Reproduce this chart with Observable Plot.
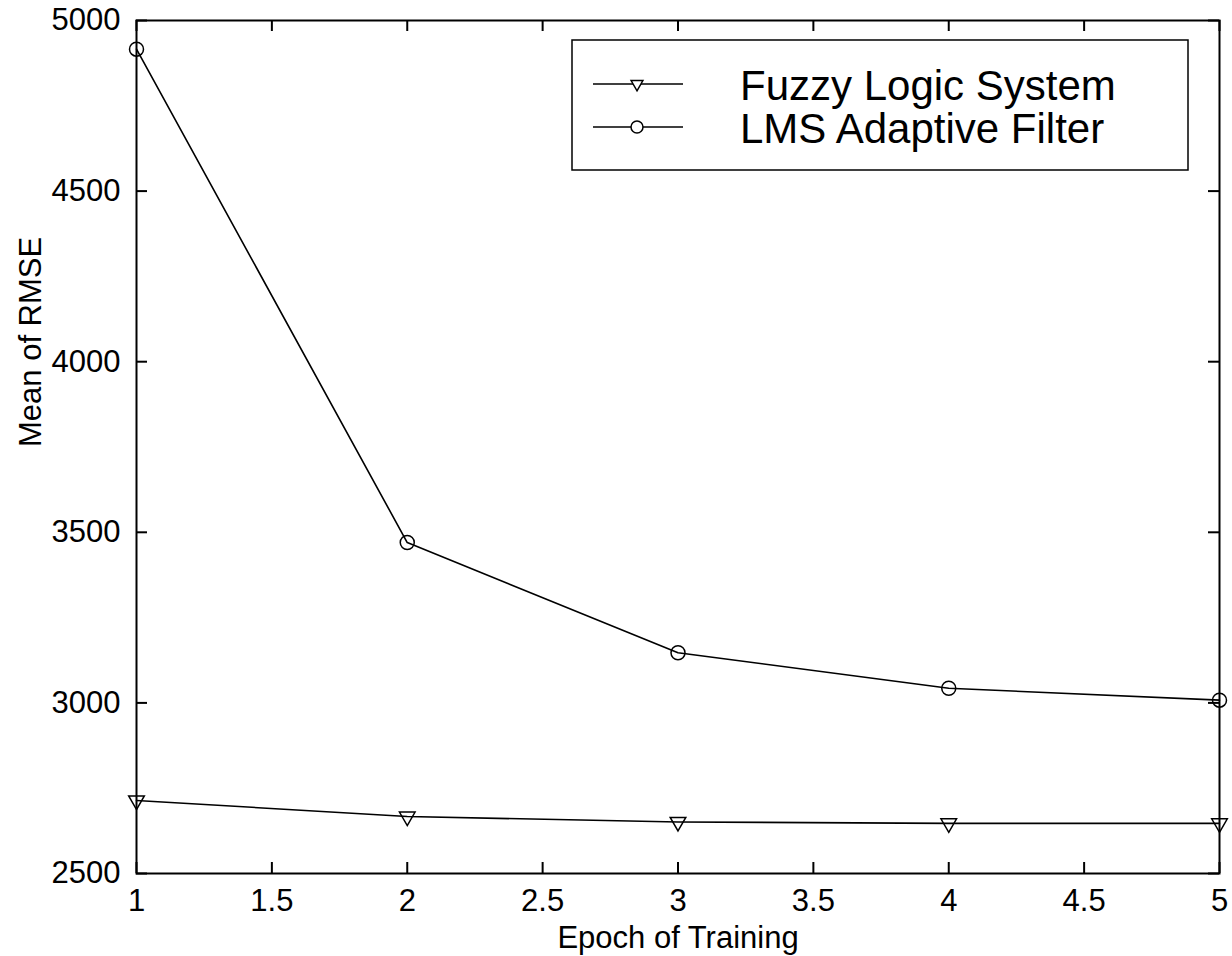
<!DOCTYPE html>
<html><head><meta charset="utf-8">
<script src="https://cdn.jsdelivr.net/npm/d3@7"></script>
<script src="https://cdn.jsdelivr.net/npm/@observablehq/plot@0.6"></script>
<style>body{margin:0;background:#fff} #chart{width:1232px;height:956px}</style>
</head><body><div id="chart"></div>
<script>
const epochs = [1, 2, 3, 4, 5];
const fuzzyRMSE = [2714, 2667, 2651, 2647, 2647];
const lmsRMSE = [4916, 3470, 3147, 3043, 3008];
const seriesNames = ["Fuzzy Logic System", "LMS Adaptive Filter"];
const xTicks = [1, 1.5, 2, 2.5, 3, 3.5, 4, 4.5, 5];
const yTicks = [2500, 3000, 3500, 4000, 4500, 5000];
const xLabel = "Epoch of Training";
const yLabel = "Mean of RMSE";

const fuzzy = epochs.map((e, i) => ({epoch: e, rmse: fuzzyRMSE[i]}));
const lms = epochs.map((e, i) => ({epoch: e, rmse: lmsRMSE[i]}));

const font = "'Liberation Sans', Arial, Helvetica, sans-serif";
const plotW = 1232, plotH = 956, mL = 136, mR = 13, mT = 20, mB = 83;
const frameW = plotW - mL - mR, frameH = plotH - mT - mB;
const tickLen = 11;
const triDown = {draw(ctx, size) {
  const y = -Math.sqrt(size / (Math.sqrt(3) * 3));
  ctx.moveTo(0, -2 * y);
  ctx.lineTo(-Math.sqrt(3) * y, y);
  ctx.lineTo(Math.sqrt(3) * y, y);
  ctx.closePath();
}};

const plot = Plot.plot({
  width: plotW, height: plotH,
  marginLeft: mL, marginRight: mR, marginTop: mT, marginBottom: mB,
  style: {fontFamily: font, background: "white"},
  x: {domain: [1, 5]},
  y: {domain: [2500, 5000]},
  marks: [
    Plot.frame({stroke: "black", strokeWidth: 2}),
    Plot.axisX({ticks: xTicks, tickSize: 0, tickPadding: 15, fontSize: 31, label: null, tickFormat: d => String(d)}),
    Plot.axisY({ticks: yTicks, tickSize: 0, tickPadding: 16, fontSize: 31, label: null, tickFormat: d => String(d)}),
    // inward tick marks on all four sides
    Plot.ruleX(xTicks, {x: d => d, insetTop: frameH - tickLen, stroke: "black", strokeWidth: 2}),
    Plot.ruleX(xTicks, {x: d => d, insetBottom: frameH - tickLen, stroke: "black", strokeWidth: 2}),
    Plot.ruleY(yTicks, {y: d => d, insetRight: frameW - tickLen, stroke: "black", strokeWidth: 2}),
    Plot.ruleY(yTicks, {y: d => d, insetLeft: frameW - tickLen, stroke: "black", strokeWidth: 2}),
    Plot.line(lms, {x: "epoch", y: "rmse", stroke: "black", strokeWidth: 1.6}),
    Plot.line(fuzzy, {x: "epoch", y: "rmse", stroke: "black", strokeWidth: 1.6}),
    Plot.dot(lms, {x: "epoch", y: "rmse", r: 7, stroke: "black", fill: "none", strokeWidth: 1.5}),
    Plot.dot(fuzzy, {x: "epoch", y: "rmse", symbol: triDown, r: 5.8, stroke: "black", fill: "none", strokeWidth: 1.5}),
    Plot.text([xLabel], {frameAnchor: "bottom", dy: 52, lineAnchor: "top", fontSize: 31, fill: "black"}),
    Plot.text([yLabel], {frameAnchor: "left", dx: -105, rotate: -90, fontSize: 31, fill: "black"})
  ]
});

// Legend
const svg = d3.select(plot);
const lg = svg.append("g").attr("font-family", font).attr("text-anchor", "start");
lg.append("rect").attr("x", 572).attr("y", 40).attr("width", 616).attr("height", 130)
  .attr("fill", "white").attr("stroke", "black").attr("stroke-width", 1.5);
seriesNames.forEach((name, i) => {
  const cy = 84 + i * 43;
  lg.append("line").attr("x1", 593).attr("x2", 683).attr("y1", cy).attr("y2", cy)
    .attr("stroke", "black").attr("stroke-width", 1.6);
  if (i === 0) {
    lg.append("path").attr("transform", `translate(637,${cy})`)
      .attr("d", d3.symbol(triDown, 60)()).attr("fill", "white").attr("stroke", "black").attr("stroke-width", 1.5);
  } else {
    lg.append("circle").attr("cx", 637).attr("cy", cy).attr("r", 6)
      .attr("fill", "white").attr("stroke", "black").attr("stroke-width", 1.5);
  }
  lg.append("text").attr("x", 740).attr("y", cy + 16).attr("font-size", 42)
    .attr("fill", "black").attr("text-anchor", "start").text(name);
});

document.getElementById("chart").appendChild(plot);
</script>
</body></html>
